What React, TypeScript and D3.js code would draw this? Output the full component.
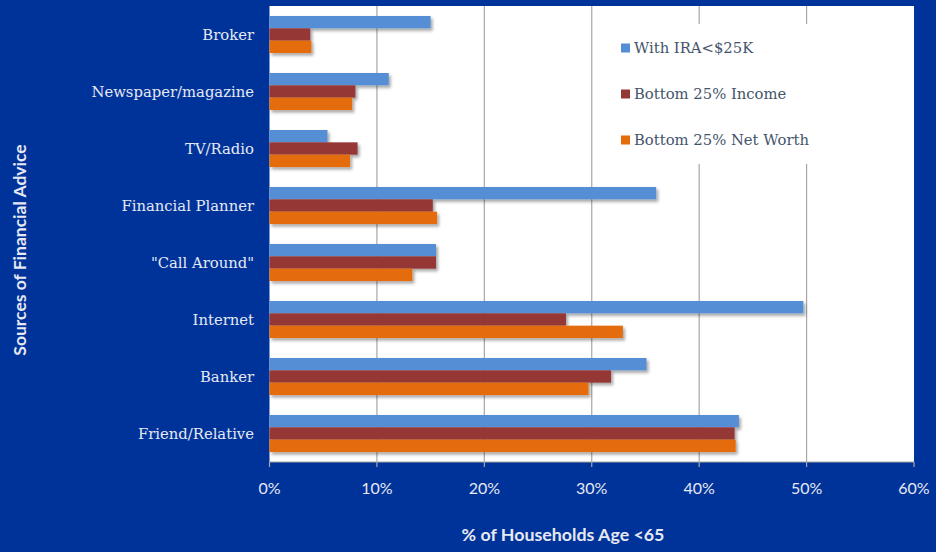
import React from "react";
import * as d3 from "d3";

const categories = [
  "Broker",
  "Newspaper/magazine",
  "TV/Radio",
  "Financial Planner",
  "\"Call Around\"",
  "Internet",
  "Banker",
  "Friend/Relative",
];
const seriesNames = ["With IRA<$25K", "Bottom 25% Income", "Bottom 25% Net Worth"];
const withIRA = [15.0, 11.1, 5.4, 36.0, 15.5, 49.7, 35.1, 43.7];
const bottomIncome = [3.8, 8.0, 8.2, 15.2, 15.5, 27.6, 31.8, 43.3];
const bottomNetWorth = [3.9, 7.7, 7.5, 15.6, 13.3, 32.9, 29.7, 43.4];
const xTicks = [0, 10, 20, 30, 40, 50, 60];
const colors = ["#558ED5", "#953735", "#E46C0A"];

const W = 936;
const H = 552;
const BG = "#00339A";
const LABEL = "#E6E9F2";

export default function App() {
  const series = [withIRA, bottomIncome, bottomNetWorth];
  const plot = { left: 269.5, right: 914, top: 6, bottom: 462 };
  const x = d3.scaleLinear().domain([0, 60]).range([plot.left, plot.right]);
  const y = d3
    .scaleBand<string>()
    .domain(categories)
    .range([plot.top, plot.bottom])
    .paddingInner(0.35)
    .paddingOuter(0.175);
  const inner = d3
    .scaleBand<string>()
    .domain(seriesNames)
    .range([0, y.bandwidth()]);

  const legendY = [48, 94, 140];

  return (
    <svg
      width={W}
      height={H}
      style={{ position: "absolute", left: 0, top: 0, display: "block" }}
    >
      <defs>
        <filter id="shadow" x="-5%" y="-30%" width="115%" height="180%">
          <feDropShadow dx="2" dy="2.5" stdDeviation="1.4" floodColor="#000" floodOpacity="0.35" />
        </filter>
      </defs>
      <rect x={0} y={0} width={W} height={H} fill={BG} />
      <rect
        x={plot.left}
        y={plot.top}
        width={plot.right - plot.left}
        height={plot.bottom - plot.top}
        fill="#FFFFFF"
      />
      {xTicks.slice(1, -1).map((t) => (
        <line
          key={"g" + t}
          x1={x(t)}
          x2={x(t)}
          y1={plot.top}
          y2={plot.bottom}
          stroke="#A6A6A6"
          strokeWidth={1.2}
        />
      ))}
      {/* legend box */}
      <rect x={598} y={24} width={236} height={140} fill="#FFFFFF" />
      {legendY.map((ly, i) => (
        <g key={"l" + i}>
          <rect x={621} y={ly - 4.5} width={9} height={9} fill={colors[i]} />
          <text
            x={634}
            y={ly}
            dy="0.35em"
            fill="#44546A"
            fontFamily="'DejaVu Serif', serif"
            fontSize={14.8}
          >
            {seriesNames[i]}
          </text>
        </g>
      ))}
      {/* bars */}
      <g filter="url(#shadow)">
        {categories.map((c, ci) =>
          series.map((s, si) => (
            <rect
              key={c + si}
              x={x(0)}
              y={(y(c) as number) + (inner(seriesNames[si]) as number)}
              width={x(s[ci]) - x(0)}
              height={inner.bandwidth()}
              fill={colors[si]}
            />
          ))
        )}
      </g>
      {/* bottom axis */}
      <line
        x1={plot.left}
        x2={plot.right}
        y1={plot.bottom}
        y2={plot.bottom}
        stroke="#A6A6A6"
        strokeWidth={1.2}
      />
      {xTicks.map((t) => (
        <g key={"t" + t}>
          <line
            x1={x(t)}
            x2={x(t)}
            y1={plot.bottom}
            y2={plot.bottom + 5}
            stroke="#A6A6A6"
            strokeWidth={1.2}
          />
          <text
            x={x(t)}
            y={488}
            dy="0.35em"
            textAnchor="middle"
            fill={LABEL}
            fontFamily="Lato, 'Open Sans', sans-serif"
            fontSize={16}
          >
            {t + "%"}
          </text>
        </g>
      ))}
      {/* category labels */}
      {categories.map((c) => (
        <text
          key={"c" + c}
          x={254}
          y={(y(c) as number) + y.bandwidth() / 2}
          dy="0.35em"
          textAnchor="end"
          fill={LABEL}
          fontFamily="'DejaVu Serif', serif"
          fontSize={14.8}
        >
          {c}
        </text>
      ))}
      <text
        x={563}
        y={535}
        dy="0.35em"
        textAnchor="middle"
        fill={LABEL}
        fontFamily="Lato, 'Open Sans', sans-serif"
        fontWeight={700}
        fontSize={17.8}
      >
        % of Households Age &lt;65
      </text>
      <text
        transform={`translate(20, 250) rotate(-90)`}
        textAnchor="middle"
        dy="0.35em"
        fill={LABEL}
        fontFamily="Lato, 'Open Sans', sans-serif"
        fontWeight={700}
        fontSize={17.5}
      >
        Sources of Financial Advice
      </text>
    </svg>
  );
}
